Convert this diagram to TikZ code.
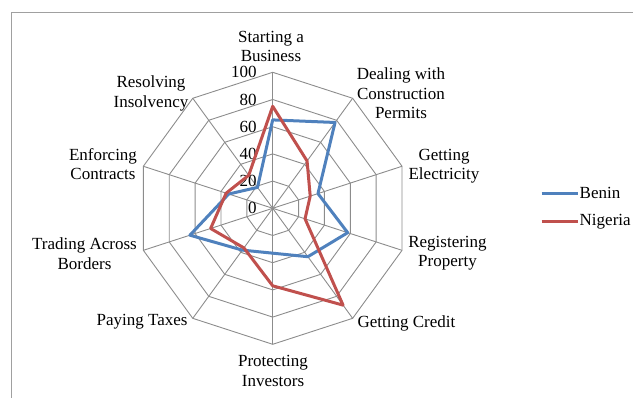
\documentclass[tikz,border=0pt]{standalone}
\usepackage{fontspec}
\setmainfont{Liberation Serif}
\definecolor{benin}{HTML}{4F81BD}
\definecolor{nigeria}{HTML}{C0504D}
\definecolor{gridgray}{HTML}{8C8C8C}
\definecolor{framegray}{HTML}{A0A0A0}
\begin{document}
\begin{tikzpicture}[x=1pt,y=-1pt,
  gridline/.style={draw=gridgray, line width=0.9pt},
  series/.style={line width=3pt, line join=round},
  axislabel/.style={font=\fontsize{17}{19.5}\selectfont, align=center, inner sep=0pt},
  ticklabel/.style={font=\fontsize{17}{19.5}\selectfont, anchor=east, inner sep=0pt},
  legendlabel/.style={font=\fontsize{17}{19.5}\selectfont, anchor=west, inner sep=0pt}]
\useasboundingbox (0,0) rectangle (633,398);
\def\cx{272.7}
\def\cy{208.3}
\def\R{1.36}
% frame
\coordinate (f1) at (11,398);
\coordinate (f2) at (11,13);
\coordinate (f3) at (633,13);
\draw[draw=framegray, line width=1pt] (f1) -- (f2) -- (f3);
% grid rings
\foreach \r in {20,40,60,80,100}{
  \foreach \k in {0,...,9}{
    \coordinate (g\r-\k) at ({\cx+\R*\r*sin(36*\k)},{\cy-\R*\r*cos(36*\k)});
  }
  \draw[gridline] (g\r-0) -- (g\r-1) -- (g\r-2) -- (g\r-3) -- (g\r-4) -- (g\r-5) -- (g\r-6) -- (g\r-7) -- (g\r-8) -- (g\r-9) -- cycle;
}
% spokes
\coordinate (c) at (\cx,\cy);
\foreach \k in {0,...,9}{
  \draw[gridline] (c) -- (g100-\k);
}
% tick labels
\foreach \r in {0,20,40,60,80,100}{
  \node[ticklabel] (t\r) at (256.7,{\cy-\R*\r}) {\r};
}
% data
\foreach \v [count=\k from 0] in {65,78,35,58,44,33,38,64,34,19}{
  \coordinate (b\k) at ({\cx+\R*\v*sin(36*\k)},{\cy-\R*\v*cos(36*\k)});
}
\foreach \v [count=\k from 0] in {75,43,29,25,88,57,36,48,36,30}{
  \coordinate (n\k) at ({\cx+\R*\v*sin(36*\k)},{\cy-\R*\v*cos(36*\k)});
}
\draw[series, benin] (b0) -- (b1) -- (b2) -- (b3) -- (b4) -- (b5) -- (b6) -- (b7) -- (b8) -- (b9) -- cycle;
\draw[series, nigeria] (n0) -- (n1) -- (n2) -- (n3) -- (n4) -- (n5) -- (n6) -- (n7) -- (n8) -- (n9) -- cycle;
% axis labels
\node[axislabel] (l0) at (271,46.5) {Starting a\\Business};
\node[axislabel] (l1) at (401,93.5) {Dealing with\\Construction\\Permits};
\node[axislabel] (l2) at (444,166) {Getting\\Electricity};
\node[axislabel] (l3) at (447.5,253) {Registering\\Property};
\node[axislabel] (l4) at (406.5,323) {Getting Credit};
\node[axislabel] (l5) at (273,371) {Protecting\\Investors};
\node[axislabel] (l6) at (142,321.7) {Paying Taxes};
\node[axislabel] (l7) at (84.5,253.5) {Trading Across\\Borders};
\node[axislabel] (l8) at (103,164) {Enforcing\\Contracts};
\node[axislabel] (l9) at (151,93.5) {Resolving\\Insolvency};
% legend
\coordinate (lb1) at (541.7,193.3);
\coordinate (lb2) at (578.3,193.3);
\coordinate (ln1) at (541.7,221.7);
\coordinate (ln2) at (578.3,221.7);
\draw[series, benin] (lb1) -- (lb2);
\draw[series, nigeria] (ln1) -- (ln2);
\node[legendlabel] (lgb) at (579.5,193.3) {Benin};
\node[legendlabel] (lgn) at (579.5,221.7) {Nigeria};
\end{tikzpicture}
\end{document}
